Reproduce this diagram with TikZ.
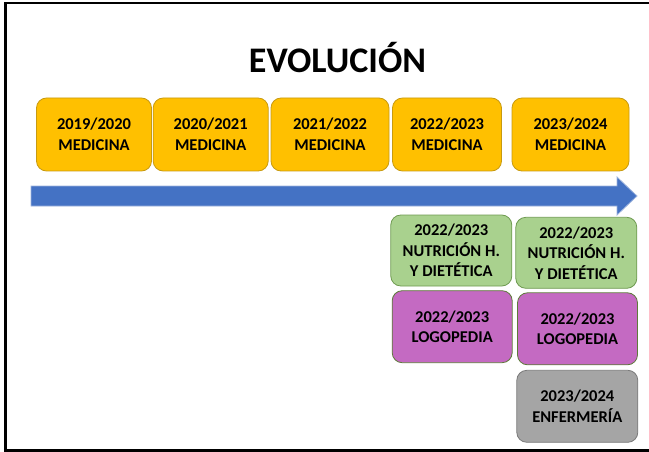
\documentclass[tikz,border=0pt]{standalone}
\usepackage{fontspec}
\setmainfont{Carlito}
\definecolor{yel}{HTML}{FFC000}
\definecolor{yelb}{HTML}{C89A10}
\definecolor{grn}{HTML}{A9D18E}
\definecolor{grnb}{HTML}{6E9A50}
\definecolor{pur}{HTML}{C46AC2}
\definecolor{purb}{HTML}{5E7A3A}
\definecolor{gry}{HTML}{A5A5A5}
\definecolor{gryb}{HTML}{7A7A7A}
\definecolor{arr}{HTML}{4472C4}
\definecolor{arrb}{HTML}{9CB3DD}
\begin{document}
\begin{tikzpicture}[x=1pt,y=-1pt,
  box/.style={rounded corners=10pt, line width=0.8pt, align=center, inner sep=0pt,
    font=\bfseries\fontsize{16.5}{20.5}\selectfont, minimum height=73pt},
  ybox/.style={box, fill=yel, draw=yelb},
  gbox/.style={box, fill=grn, draw=grnb, minimum height=71pt, minimum width=121pt},
  pbox/.style={box, fill=pur, draw=purb, minimum height=72pt, minimum width=120pt},
  xbox/.style={box, fill=gry, draw=gryb, minimum height=72pt, minimum width=121pt}]
\useasboundingbox (0,0) rectangle (649,452);
\begin{scope}
\clip (0,0) rectangle (649,452);
\draw[line width=2.6pt] (660,3) -- (5.5,3) -- (5.5,450.5) -- (660,450.5);
\end{scope}
\node[font=\bfseries\fontsize{36}{40}\selectfont] (title) at (337.5,58) {EVOLUCIÓN};
\node[ybox, minimum width=115pt] (y1) at (94,134.5) {2019/2020\\MEDICINA};
\node[ybox, minimum width=115pt] (y2) at (210.7,134.5) {2020/2021\\MEDICINA};
\node[ybox, minimum width=118pt] (y3) at (330,134.5) {2021/2022\\MEDICINA};
\node[ybox, minimum width=109pt] (y4) at (447,134.5) {2022/2023\\MEDICINA};
\node[ybox, minimum width=117pt] (y5) at (570.5,134.5) {2023/2024\\MEDICINA};
\path[fill=arr, draw=arrb, line width=0.8pt] (31,186) -- (617,186) -- (617,177) -- (637,196) -- (617,215) -- (617,206) -- (31,206) -- cycle;
\node[gbox] (g1) at (451.3,250.5) {2022/2023\\NUTRICIÓN H.\\Y DIETÉTICA};
\node[gbox] (g2) at (576.3,252.8) {2022/2023\\NUTRICIÓN H.\\Y DIETÉTICA};
\node[pbox] (p1) at (452.2,326.7) {2022/2023\\LOGOPEDIA};
\node[pbox] (p2) at (577.5,328.8) {2022/2023\\LOGOPEDIA};
\node[xbox] (e1) at (577.3,406.3) {2023/2024\\ENFERMERÍA};
\end{tikzpicture}
\end{document}
